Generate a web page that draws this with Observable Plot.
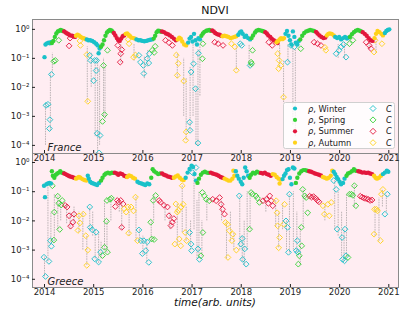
<!DOCTYPE html>
<html><head><meta charset="utf-8">
<script src="https://cdn.jsdelivr.net/npm/d3@7"></script>
<script src="https://cdn.jsdelivr.net/npm/@observablehq/plot@0.6"></script>
<style>
body{margin:0;background:#fff;font-family:"DejaVu Sans",sans-serif;}
#wrap{position:relative;width:416px;height:315px;overflow:hidden;}
#wrap svg.p{position:absolute;left:0;top:0;}
.t{position:absolute;white-space:nowrap;color:#111;}
</style></head>
<body><div id="wrap"></div>
<script>
// ---------- labels / ticks ----------
const title = "NDVI";
const xLabel = "time(arb. units)";
const panelNames = ["France", "Greece"];
const years = [2014, 2015, 2016, 2017, 2018, 2019, 2020, 2021];
const yTicks = [1e-4, 1e-3, 1e-2, 1e-1, 1];
const seasonCodes = ["W", "P", "S", "A"];
const seasonNames = ["Winter", "Spring", "Summer", "Autumn"];
const seasonColors = ["#19c1c9", "#34d134", "#e3163c", "#ffd21a"];

// ---------- France: rho [t, value, season] ----------
const franceRho = [
[2014.00,0.11,"W"],[2014.02,0.30,"W"],[2014.05,0.33,"W"],[2014.08,0.35,"W"],[2014.11,0.33,"W"],[2014.13,0.36,"W"],
[2014.15,0.34,"P"],[2014.18,0.40,"P"],[2014.21,0.55,"P"],[2014.24,0.72,"P"],[2014.27,0.85,"P"],[2014.30,0.9,"P"],[2014.33,0.95,"P"],[2014.36,0.9,"P"],[2014.38,0.88,"P"],
[2014.40,0.85,"S"],[2014.43,0.78,"S"],[2014.46,0.72,"S"],[2014.49,0.68,"S"],[2014.52,0.62,"S"],[2014.56,0.6,"S"],[2014.59,0.58,"S"],[2014.62,0.55,"S"],
[2014.64,0.6,"A"],[2014.67,0.66,"A"],[2014.70,0.62,"A"],[2014.73,0.56,"A"],[2014.76,0.52,"A"],[2014.80,0.5,"A"],[2014.83,0.46,"A"],
[2014.86,0.45,"W"],[2014.89,0.42,"W"],[2014.93,0.42,"W"],[2014.97,0.4,"W"],[2015.01,0.36,"W"],[2015.05,0.32,"W"],[2015.08,0.28,"W"],[2015.10,0.15,"W"],[2015.12,0.22,"W"],
[2015.15,0.25,"P"],[2015.18,0.3,"P"],[2015.21,0.42,"P"],[2015.24,0.6,"P"],[2015.27,0.78,"P"],[2015.30,0.88,"P"],[2015.33,0.95,"P"],[2015.36,0.92,"P"],[2015.38,0.85,"P"],
[2015.41,0.75,"S"],[2015.44,0.62,"S"],[2015.47,0.5,"S"],[2015.50,0.42,"S"],[2015.53,0.4,"S"],[2015.56,0.48,"S"],[2015.59,0.58,"S"],[2015.62,0.62,"S"],
[2015.65,0.7,"A"],[2015.68,0.72,"A"],[2015.71,0.65,"A"],[2015.74,0.58,"A"],[2015.77,0.52,"A"],[2015.81,0.5,"A"],[2015.84,0.48,"A"],
[2015.87,0.45,"W"],[2015.91,0.42,"W"],[2015.95,0.42,"W"],[2015.99,0.4,"W"],[2016.03,0.39,"W"],[2016.07,0.4,"W"],[2016.11,0.42,"W"],[2016.15,0.44,"W"],[2016.19,0.45,"W"],
[2016.22,0.48,"P"],[2016.25,0.6,"P"],[2016.28,0.8,"P"],[2016.31,0.9,"P"],[2016.34,0.88,"P"],[2016.37,0.82,"P"],
[2016.39,0.85,"S"],[2016.43,0.8,"S"],[2016.47,0.72,"S"],[2016.51,0.68,"S"],[2016.55,0.62,"S"],[2016.59,0.55,"S"],[2016.63,0.48,"S"],[2016.67,0.42,"S"],
[2016.71,0.45,"A"],[2016.74,0.52,"A"],[2016.77,0.48,"A"],[2016.80,0.38,"A"],[2016.84,0.3,"A"],[2016.88,0.28,"A"],
[2016.92,0.35,"W"],[2016.95,0.48,"W"],[2016.98,0.55,"W"],[2017.01,0.38,"W"],[2017.04,0.7,"W"],[2017.07,0.42,"W"],[2017.10,0.3,"W"],[2017.13,0.5,"W"],[2017.16,0.45,"W"],
[2017.19,0.6,"P"],[2017.22,0.72,"P"],[2017.25,0.82,"P"],[2017.29,0.9,"P"],[2017.32,0.92,"P"],[2017.35,0.95,"P"],[2017.38,0.9,"P"],
[2017.41,0.92,"S"],[2017.44,0.85,"S"],[2017.47,0.75,"S"],[2017.50,0.7,"S"],[2017.53,0.66,"S"],[2017.56,0.65,"S"],[2017.59,0.6,"S"],
[2017.62,0.58,"A"],[2017.66,0.6,"A"],[2017.70,0.58,"A"],[2017.74,0.55,"A"],[2017.78,0.5,"A"],[2017.82,0.52,"A"],[2017.86,0.55,"A"],[2017.90,0.58,"A"],
[2017.94,0.65,"W"],[2017.97,0.78,"W"],[2018.00,0.85,"W"],[2018.03,0.7,"W"],[2018.07,0.55,"W"],[2018.10,0.6,"W"],[2018.14,0.5,"W"],[2018.18,0.45,"W"],
[2018.21,0.5,"P"],[2018.24,0.62,"P"],[2018.28,0.78,"P"],[2018.31,0.9,"P"],[2018.35,0.95,"P"],[2018.39,0.92,"P"],[2018.43,0.88,"P"],[2018.46,0.85,"P"],
[2018.49,0.8,"S"],[2018.52,0.72,"S"],[2018.55,0.62,"S"],[2018.59,0.55,"S"],[2018.62,0.48,"S"],[2018.66,0.42,"S"],[2018.70,0.38,"S"],[2018.74,0.34,"S"],
[2018.72,0.36,"A"],[2018.75,0.4,"A"],[2018.78,0.45,"A"],[2018.81,0.5,"A"],[2018.84,0.46,"A"],[2018.87,0.5,"A"],
[2018.90,0.7,"W"],[2018.93,0.88,"W"],[2018.96,0.6,"W"],[2018.99,0.42,"W"],[2019.02,0.3,"W"],[2019.05,0.85,"W"],[2019.08,0.55,"W"],[2019.11,0.35,"W"],[2019.14,0.3,"W"],[2019.17,0.4,"W"],
[2019.20,0.45,"P"],[2019.24,0.6,"P"],[2019.28,0.75,"P"],[2019.32,0.85,"P"],[2019.36,0.9,"P"],[2019.40,0.95,"P"],[2019.44,0.92,"P"],[2019.48,0.88,"P"],
[2019.52,0.82,"S"],[2019.55,0.72,"S"],[2019.59,0.62,"S"],[2019.63,0.55,"S"],[2019.67,0.5,"S"],[2019.71,0.52,"S"],
[2019.74,0.62,"A"],[2019.77,0.7,"A"],[2019.80,0.72,"A"],[2019.84,0.7,"A"],[2019.88,0.62,"A"],
[2019.91,0.55,"W"],[2019.95,0.5,"W"],[2019.99,0.55,"W"],[2020.03,0.45,"W"],[2020.07,0.5,"W"],[2020.11,0.55,"W"],[2020.15,0.48,"W"],[2020.18,0.52,"W"],
[2020.21,0.55,"P"],[2020.25,0.68,"P"],[2020.29,0.8,"P"],[2020.33,0.9,"P"],[2020.37,0.95,"P"],[2020.41,0.9,"P"],[2020.44,0.85,"P"],
[2020.47,0.8,"S"],[2020.51,0.7,"S"],[2020.55,0.6,"S"],[2020.59,0.5,"S"],[2020.63,0.42,"S"],[2020.67,0.4,"S"],
[2020.71,0.5,"A"],[2020.74,0.7,"A"],[2020.77,0.88,"A"],[2020.81,0.8,"A"],[2020.85,0.7,"A"],[2020.88,0.62,"A"],
[2020.92,0.75,"W"],[2020.95,0.88,"W"],[2020.98,0.95,"W"],[2021.01,1.0,"W"]
];

// ---------- France: C [t, value, season] ----------
const franceC = [
[2014.03,2.4e-3,"W"],[2014.07,2.6e-3,"W"],[2014.11,7.7e-4,"W"],[2014.10,3.8e-4,"W"],[2014.14,2.8e-2,"W"],
[2014.19,0.079,"P"],[2014.22,0.085,"P"],[2014.29,0.42,"P"],
[2014.50,0.27,"S"],[2014.52,0.5,"S"],
[2014.72,0.4,"A"],[2014.73,0.28,"A"],[2014.86,0.134,"A"],[2014.88,3.3e-3,"A"],
[2014.92,0.127,"W"],[2014.94,0.085,"W"],[2015.02,0.085,"W"],[2015.00,0.017,"W"],[2015.05,0.038,"W"],[2015.06,0.085,"W"],[2015.07,2.6e-4,"W"],[2015.13,2.2e-4,"W"],[2015.11,5.5e-5,"W"],
[2015.18,6.7e-4,"P"],[2015.22,1.15e-3,"P"],[2015.20,0.057,"P"],[2015.28,0.19,"P"],
[2015.49,0.28,"S"],[2015.55,0.145,"S"],[2015.54,0.074,"S"],[2015.57,0.2,"S"],
[2015.70,0.45,"A"],[2015.72,0.32,"A"],[2015.81,0.11,"A"],[2015.85,0.13,"A"],
[2015.92,0.127,"W"],[2015.95,0.074,"W"],[2016.01,0.057,"W"],[2016.02,0.030,"W"],[2016.09,0.098,"W"],[2016.12,0.069,"W"],[2016.13,0.145,"W"],
[2016.19,0.19,"P"],[2016.23,0.16,"P"],[2016.25,0.26,"P"],
[2016.46,0.42,"S"],[2016.53,0.35,"S"],[2016.60,0.28,"S"],
[2016.68,0.13,"A"],[2016.70,0.026,"A"],[2016.72,0.067,"A"],[2016.83,0.0165,"A"],[2016.88,2.9e-4,"A"],[2016.87,1.5e-4,"A"],
[2016.96,3.3e-4,"W"],[2016.95,6.3e-4,"W"],[2016.98,0.034,"W"],[2017.03,0.065,"W"],[2017.07,9e-3,"W"],[2017.12,1.2e-4,"W"],[2017.13,0.15,"W"],
[2017.21,0.097,"P"],[2017.22,0.32,"P"],
[2017.46,0.36,"S"],[2017.53,0.32,"S"],[2017.63,0.28,"S"],
[2017.80,0.32,"A"],[2017.87,0.25,"A"],[2017.90,0.039,"A"],
[2017.98,0.32,"W"],[2018.01,0.28,"W"],[2018.18,0.057,"W"],
[2018.23,0.19,"P"],[2018.20,0.074,"P"],[2018.21,0.065,"P"],
[2018.56,0.36,"S"],[2018.63,0.28,"S"],
[2018.74,0.145,"A"],[2018.77,0.085,"A"],[2018.80,0.057,"A"],[2018.76,0.044,"A"],[2018.86,4.6e-3,"A"],
[2018.94,0.074,"W"],[2019.01,0.28,"W"],[2019.08,0.25,"W"],
[2019.21,0.215,"P"],
[2019.48,0.36,"S"],[2019.55,0.32,"S"],[2019.62,0.28,"S"],
[2019.72,0.19,"A"],[2019.70,0.24,"A"],
[2019.93,0.145,"W"],[2019.99,0.19,"W"],[2020.03,0.25,"W"],[2020.13,0.11,"W"],[2020.08,0.3,"W"],
[2020.20,0.32,"P"],[2020.27,0.42,"P"],
[2020.54,0.36,"S"],[2020.60,0.28,"S"],[2020.64,0.215,"S"],
[2020.70,0.165,"A"],[2020.72,0.42,"A"],[2020.86,0.32,"A"]
];

// ---------- France: vertical uncertainty segments [t, low, high] ----------
const franceErr = [
[2014.02,1e-4,3e-3],[2014.12,3e-4,0.03],[2014.16,0.03,0.15],[2014.87,3e-3,0.25],[2014.95,0.01,0.15],
[2015.03,2e-4,0.08],[2015.08,5e-5,0.1],[2015.12,1e-4,0.05],[2015.20,1e-3,0.1],[2015.23,8e-4,0.05],
[2015.55,0.07,0.3],[2015.82,0.08,0.3],[2016.03,0.02,0.12],[2016.10,0.05,0.2],[2016.70,0.02,0.15],
[2016.83,1e-3,0.1],[2016.88,1.5e-4,0.02],[2016.96,3e-4,0.05],[2017.02,1e-3,0.3],[2017.08,1e-4,0.01],
[2017.12,1e-4,0.2],[2017.16,5e-3,0.3],[2017.90,0.04,0.25],[2018.16,0.05,0.3],[2018.78,0.05,0.3],
[2018.86,3e-3,0.08],[2018.95,0.07,0.3],[2019.05,5e-4,0.3],[2019.10,2e-4,0.2],[2019.97,0.1,0.3],
[2020.10,0.1,0.35],[2020.60,0.2,0.4],[2020.74,0.15,0.45]
];

// ---------- Greece: rho ----------
const greeceRho = [
[2013.99,0.16,"W"],[2014.01,0.065,"W"],[2014.04,0.18,"W"],[2014.07,0.19,"W"],[2014.10,0.2,"W"],[2014.13,0.19,"W"],
[2014.15,0.5,"P"],[2014.17,0.35,"P"],[2014.20,0.3,"P"],[2014.23,0.38,"P"],[2014.26,0.42,"P"],[2014.29,0.45,"P"],[2014.32,0.5,"P"],[2014.35,0.45,"P"],[2014.38,0.44,"P"],
[2014.40,0.42,"S"],[2014.43,0.4,"S"],[2014.46,0.37,"S"],[2014.49,0.35,"S"],[2014.52,0.33,"S"],[2014.56,0.32,"S"],[2014.60,0.3,"S"],
[2014.64,0.28,"A"],[2014.67,0.3,"A"],[2014.70,0.32,"A"],[2014.73,0.3,"A"],[2014.77,0.27,"A"],[2014.81,0.25,"A"],[2014.85,0.24,"A"],
[2014.88,0.35,"W"],[2014.90,0.28,"W"],[2014.93,0.22,"W"],[2014.96,0.2,"W"],[2014.99,0.19,"W"],[2015.03,0.18,"W"],[2015.07,0.17,"W"],[2015.11,0.2,"W"],
[2015.15,0.24,"P"],[2015.18,0.3,"P"],[2015.22,0.38,"P"],[2015.25,0.42,"P"],[2015.29,0.45,"P"],[2015.33,0.42,"P"],[2015.37,0.45,"P"],[2015.40,0.44,"P"],
[2015.43,0.45,"S"],[2015.47,0.42,"S"],[2015.50,0.38,"S"],[2015.54,0.42,"S"],[2015.58,0.4,"S"],[2015.62,0.35,"S"],[2015.66,0.33,"S"],
[2015.68,0.32,"A"],[2015.72,0.36,"A"],[2015.76,0.34,"A"],[2015.80,0.3,"A"],[2015.84,0.28,"A"],
[2015.89,0.22,"W"],[2015.93,0.2,"W"],[2015.97,0.19,"W"],[2016.01,0.18,"W"],[2016.05,0.17,"W"],[2016.09,0.19,"W"],[2016.13,0.18,"W"],
[2016.17,0.3,"P"],[2016.20,0.59,"P"],[2016.23,0.5,"P"],[2016.27,0.45,"P"],[2016.31,0.4,"P"],[2016.35,0.42,"P"],
[2016.39,0.42,"S"],[2016.43,0.38,"S"],[2016.47,0.36,"S"],[2016.51,0.33,"S"],[2016.55,0.32,"S"],[2016.59,0.3,"S"],
[2016.63,0.3,"A"],[2016.67,0.33,"A"],[2016.71,0.36,"A"],[2016.75,0.3,"A"],[2016.79,0.26,"A"],[2016.83,0.25,"A"],
[2016.87,0.3,"W"],[2016.91,0.45,"W"],[2016.95,0.6,"W"],[2016.99,0.77,"W"],[2017.02,0.7,"W"],[2017.05,0.4,"W"],[2017.08,0.24,"W"],
[2017.11,0.2,"P"],[2017.14,0.28,"P"],[2017.18,0.38,"P"],[2017.22,0.45,"P"],[2017.26,0.48,"P"],[2017.30,0.45,"P"],[2017.34,0.44,"P"],
[2017.38,0.45,"S"],[2017.42,0.42,"S"],[2017.46,0.4,"S"],[2017.50,0.38,"S"],[2017.54,0.35,"S"],[2017.58,0.32,"S"],[2017.62,0.3,"S"],
[2017.66,0.28,"A"],[2017.70,0.26,"A"],[2017.74,0.24,"A"],[2017.78,0.24,"A"],[2017.82,0.28,"A"],[2017.84,0.52,"A"],[2017.86,0.35,"A"],
[2017.89,0.5,"W"],[2017.92,0.35,"W"],[2017.95,0.28,"W"],[2017.99,0.22,"W"],[2018.02,0.18,"W"],[2018.05,0.3,"W"],[2018.08,0.67,"W"],[2018.11,0.5,"W"],[2018.14,0.35,"W"],
[2018.17,0.3,"P"],[2018.20,0.38,"P"],[2018.24,0.45,"P"],[2018.28,0.42,"P"],[2018.32,0.48,"P"],[2018.36,0.45,"P"],
[2018.40,0.44,"S"],[2018.44,0.42,"S"],[2018.48,0.45,"S"],[2018.52,0.4,"S"],[2018.56,0.38,"S"],[2018.60,0.35,"S"],
[2018.64,0.4,"A"],[2018.68,0.38,"A"],[2018.72,0.32,"A"],[2018.76,0.28,"A"],[2018.78,0.19,"A"],[2018.80,0.26,"A"],
[2018.84,0.27,"W"],[2018.87,0.35,"W"],[2018.90,0.42,"W"],[2018.93,0.55,"W"],[2018.96,0.59,"W"],[2018.99,0.3,"W"],[2019.02,0.18,"W"],[2019.05,0.67,"W"],[2019.08,0.62,"W"],
[2019.11,0.2,"P"],[2019.14,0.3,"P"],[2019.18,0.42,"P"],[2019.22,0.5,"P"],[2019.26,0.55,"P"],[2019.30,0.55,"P"],[2019.34,0.52,"P"],
[2019.38,0.5,"S"],[2019.42,0.48,"S"],[2019.46,0.45,"S"],[2019.50,0.42,"S"],[2019.54,0.4,"S"],[2019.58,0.38,"S"],[2019.62,0.36,"S"],
[2019.66,0.32,"A"],[2019.70,0.3,"A"],[2019.74,0.28,"A"],[2019.78,0.3,"A"],[2019.82,0.35,"A"],[2019.85,0.52,"A"],
[2019.88,0.48,"W"],[2019.91,0.4,"W"],[2019.94,0.32,"W"],[2019.97,0.27,"W"],[2020.00,0.22,"W"],[2020.03,0.18,"W"],[2020.07,0.2,"W"],[2020.10,0.28,"W"],
[2020.14,0.35,"P"],[2020.17,0.42,"P"],[2020.21,0.45,"P"],[2020.25,0.5,"P"],[2020.29,0.59,"P"],[2020.33,0.52,"P"],
[2020.38,0.5,"S"],[2020.42,0.48,"S"],[2020.46,0.45,"S"],[2020.50,0.46,"S"],[2020.54,0.44,"S"],[2020.58,0.45,"S"],[2020.62,0.42,"S"],[2020.66,0.4,"S"],
[2020.70,0.35,"A"],[2020.73,0.3,"A"],[2020.76,0.28,"A"],[2020.80,0.3,"A"],[2020.84,0.35,"A"],
[2020.88,0.4,"W"],[2020.92,0.45,"W"],[2020.96,0.52,"W"],[2020.99,0.48,"W"]
];

// ---------- Greece: C ----------
const greeceC = [
[2013.99,5.7e-4,"W"],[2014.09,4.1e-4,"W"],[2014.02,1.25e-4,"W"],[2014.12,2.1e-3,"W"],[2014.14,1.35e-3,"W"],
[2014.19,2.2e-3,"P"],[2014.16,0.16,"P"],[2014.20,0.02,"P"],[2014.27,0.07,"P"],[2014.31,5.1e-3,"P"],[2014.29,0.04,"P"],[2014.36,0.05,"P"],[2014.34,0.035,"P"],
[2014.42,0.034,"S"],[2014.50,0.015,"S"],[2014.53,6.6e-3,"S"],[2014.46,0.03,"S"],[2014.60,0.017,"S"],[2014.58,0.009,"S"],
[2014.70,0.015,"A"],[2014.72,0.0085,"A"],[2014.68,4.7e-3,"A"],[2014.79,0.017,"A"],[2014.86,3e-4,"A"],[2014.88,1e-3,"A"],[2014.84,3.1e-3,"A"],
[2014.92,0.03,"W"],[2014.93,6e-3,"W"],[2014.97,5e-3,"W"],[2015.05,4.1e-3,"W"],[2015.02,5e-4,"W"],[2015.10,3.9e-4,"W"],[2015.14,8.5e-4,"W"],
[2015.18,6.5e-4,"P"],[2015.22,1.25e-3,"P"],[2015.26,9.7e-3,"P"],[2015.28,8.5e-4,"P"],[2015.27,0.05,"P"],[2015.33,0.055,"P"],[2015.36,0.06,"P"],
[2015.48,0.05,"S"],[2015.51,0.044,"S"],[2015.55,0.05,"S"],[2015.44,0.031,"S"],[2015.57,6e-3,"S"],[2015.60,0.038,"S"],
[2015.62,0.026,"A"],[2015.66,0.02,"A"],[2015.70,0.03,"A"],[2015.76,0.03,"A"],[2015.85,0.065,"A"],[2015.81,0.022,"A"],[2015.71,3.8e-3,"A"],[2015.89,2.1e-3,"A"],
[2015.92,4.9e-3,"W"],[2015.96,2.1e-3,"W"],[2016.02,2.1e-3,"W"],[2016.06,9.6e-4,"W"],[2016.09,1.9e-3,"W"],[2016.12,3.8e-4,"W"],[2015.99,7.6e-4,"W"],
[2016.16,9e-3,"P"],[2016.18,2.4e-3,"P"],[2016.21,0.05,"P"],[2016.26,0.074,"P"],[2016.23,2.3e-3,"P"],
[2016.33,0.05,"S"],[2016.36,0.044,"S"],[2016.43,0.034,"S"],[2016.50,0.03,"S"],[2016.53,0.015,"S"],[2016.57,6.9e-3,"S"],[2016.60,9e-3,"S"],[2016.63,0.012,"S"],
[2016.67,0.038,"A"],[2016.70,0.02,"A"],[2016.72,0.023,"A"],[2016.80,0.16,"A"],[2016.74,2.4e-3,"A"],[2016.77,1.4e-3,"A"],[2016.65,1.6e-3,"A"],[2016.78,0.03,"A"],[2016.82,0.037,"A"],[2016.86,4e-3,"A"],[2016.89,2.1e-3,"A"],
[2016.95,4e-3,"W"],[2016.98,1.6e-3,"W"],[2016.99,9.6e-4,"W"],[2017.01,0.45,"W"],[2017.08,0.67,"W"],[2017.12,1.1e-3,"W"],[2017.15,4.8e-4,"W"],
[2017.22,4e-3,"P"],[2017.18,6.4e-4,"P"],[2017.21,0.094,"P"],[2017.25,0.072,"P"],[2017.29,0.055,"P"],[2017.35,0.049,"P"],
[2017.42,0.055,"S"],[2017.49,0.049,"S"],[2017.56,0.063,"S"],[2017.59,0.037,"S"],[2017.62,0.025,"S"],[2017.66,0.017,"S"],
[2017.68,8.8e-3,"A"],[2017.72,7.7e-3,"A"],[2017.76,4.6e-3,"A"],[2017.83,3.5e-3,"A"],[2017.81,2.1e-3,"A"],[2017.73,5.6e-4,"A"],[2017.90,1e-3,"A"],
[2017.96,0.072,"W"],[2017.99,1.6e-3,"W"],[2018.07,1.1e-3,"W"],[2018.03,4.8e-4,"W"],[2018.10,3.3e-4,"W"],[2018.02,2.5e-3,"W"],
[2018.17,5.2e-3,"P"],[2018.20,0.094,"P"],[2018.23,0.082,"P"],[2018.30,0.072,"P"],[2018.37,0.043,"P"],[2018.33,0.06,"P"],
[2018.44,0.049,"S"],[2018.51,0.055,"S"],[2018.58,0.072,"S"],[2018.61,0.049,"S"],[2018.64,0.033,"S"],[2018.55,0.04,"S"],
[2018.71,0.049,"A"],[2018.73,0.019,"A"],[2018.74,6.8e-3,"A"],[2018.78,2.7e-3,"A"],[2018.76,1.2e-3,"A"],[2018.88,0.037,"A"],[2018.86,7.7e-3,"A"],
[2018.98,0.082,"W"],[2018.91,0.01,"W"],[2018.94,6e-3,"W"],[2018.96,8.4e-4,"W"],[2019.14,2.1e-3,"W"],[2019.15,8.4e-4,"W"],[2019.12,9.6e-4,"W"],
[2019.25,0.12,"P"],[2019.29,0.072,"P"],[2019.32,0.063,"P"],[2019.35,0.019,"P"],[2019.22,6e-3,"P"],[2019.23,1.4e-3,"P"],[2019.18,6.4e-4,"P"],[2019.16,3.3e-4,"P"],
[2019.39,0.07,"S"],[2019.43,0.065,"S"],[2019.47,0.068,"S"],[2019.51,0.06,"S"],[2019.55,0.05,"S"],[2019.58,0.045,"S"],
[2019.66,0.033,"A"],[2019.69,0.017,"A"],[2019.76,0.037,"A"],[2019.83,0.043,"A"],[2019.79,0.015,"A"],
[2019.88,0.24,"W"],[2019.93,0.12,"W"],[2019.95,5.2e-3,"W"],[2020.05,2.7e-3,"W"],[2020.06,4.8e-4,"W"],[2020.10,4.3e-4,"W"],[2020.13,6.4e-4,"W"],[2020.11,5.2e-3,"W"],
[2020.17,5.6e-4,"P"],[2020.30,0.16,"P"],[2020.33,0.033,"P"],[2020.20,0.082,"P"],[2020.24,0.082,"P"],[2020.27,0.075,"P"],
[2020.42,0.07,"S"],[2020.46,0.065,"S"],[2020.50,0.06,"S"],[2020.54,0.058,"S"],[2020.58,0.055,"S"],[2020.62,0.05,"S"],[2020.66,0.052,"S"],
[2020.71,0.025,"A"],[2020.75,0.025,"A"],[2020.77,0.022,"A"],[2020.70,3.5e-3,"A"],[2020.83,2.1e-3,"A"],[2020.88,0.12,"A"],[2020.85,0.082,"A"],
[2020.97,0.082,"W"],[2020.92,0.017,"W"]
];

// ---------- Greece: vertical uncertainty segments ----------
const greeceErr = [
[2014.00,1.2e-4,6e-4],[2014.07,4e-4,0.15],[2014.13,1.5e-3,0.02],[2014.20,2e-3,0.08],[2014.27,5e-3,0.07],[2014.33,0.01,0.05],
[2014.45,0.008,0.035],[2014.52,5e-3,0.02],[2014.60,0.008,0.03],[2014.70,4e-3,0.02],[2014.78,1e-3,0.02],[2014.86,3e-4,3e-3],
[2014.92,5e-3,0.03],[2014.98,3e-3,0.02],[2015.03,5e-4,5e-3],[2015.10,3.5e-4,4e-3],[2015.15,5e-4,2e-3],[2015.22,1e-3,0.05],
[2015.27,8e-4,0.01],[2015.35,0.01,0.06],[2015.52,0.02,0.05],[2015.57,5e-3,0.04],[2015.72,3e-3,0.03],[2015.86,2e-3,0.07],
[2015.93,2e-3,5e-3],[2016.00,7e-4,3e-3],[2016.08,4e-4,2e-3],[2016.17,2e-3,0.01],[2016.22,0.01,0.08],[2016.45,0.01,0.04],
[2016.55,5e-3,0.02],[2016.70,1.4e-3,0.04],[2016.80,4e-3,0.16],[2016.88,2e-3,0.03],[2016.97,1e-3,0.01],[2017.04,5e-3,0.5],
[2017.10,5e-4,0.05],[2017.14,5e-4,0.1],[2017.20,6e-4,0.01],[2017.30,0.01,0.06],[2017.60,0.01,0.05],[2017.70,5e-4,0.01],
[2017.78,2e-3,0.02],[2017.85,1e-3,4e-3],[2017.97,1e-3,0.07],[2018.02,4e-4,3e-3],[2018.06,3e-4,0.01],[2018.12,1e-3,0.1],
[2018.18,5e-3,0.09],[2018.50,0.02,0.06],[2018.70,6e-3,0.05],[2018.76,1.2e-3,0.02],[2018.84,5e-3,0.04],[2018.92,1e-3,0.01],
[2018.98,8e-4,0.08],[2019.06,1e-3,0.1],[2019.13,8e-4,0.02],[2019.20,3e-4,6e-3],[2019.26,6e-3,0.12],[2019.70,0.01,0.04],
[2019.90,5e-3,0.24],[2019.97,3e-3,0.1],[2020.04,5e-4,0.02],[2020.09,4e-4,5e-3],[2020.14,6e-4,0.08],[2020.30,0.03,0.16],
[2020.72,3e-3,0.03],[2020.80,2e-3,0.06],[2020.87,0.03,0.12],[2020.95,0.02,0.08]
];

// ---------- drawing ----------
const W = 416, H = 315;
const pink = "#ffedf2";
const sup = {"-":"\u207B","0":"\u2070","1":"\u00B9","2":"\u00B2","3":"\u00B3","4":"\u2074","5":"\u2075"};
const fmtPow = d => "10" + String(Math.round(Math.log10(d))).split("").map(c => sup[c]).join("");

function panel(rho, cData, err, name, top, bottom, yDomain) {
  return Plot.plot({
    width: W, height: H,
    marginLeft: 32, marginRight: 18, marginTop: top, marginBottom: H - bottom,
    style: {background: "transparent", fontFamily: "DejaVu Sans, sans-serif", fontSize: "8.5px", color: "#222", overflow: "visible"},
    x: {domain: [2013.756, 2021.197]},
    y: {type: "log", domain: yDomain},
    color: {type: "ordinal", domain: seasonCodes, range: seasonColors},
    marks: [
      Plot.frame({fill: pink}),
      Plot.ruleX(err, {x: d => d[0], y1: d => d[1], y2: d => d[2], stroke: "#7a7a7a", strokeWidth: 0.9, strokeOpacity: 0.55, strokeDasharray: "1.6,0.9", clip: true}),
      Plot.dot(cData, {x: d => d[0], y: d => d[1], stroke: d => d[2], symbol: "diamond2", r: 2.6, strokeWidth: 0.9, clip: true}),
      Plot.dot(rho, {x: d => d[0], y: d => d[1], fill: d => d[2], r: 2.2, clip: true}),
      Plot.frame({stroke: "#8a8a8a", strokeWidth: 1}),
      Plot.axisX({ticks: years, tickFormat: d => String(d), tickSize: -3, tickPadding: 4, label: null, fontSize: 8.5}),
      Plot.axisY({ticks: yTicks, tickFormat: fmtPow, tickSize: -3, tickPadding: 6, label: null, fontSize: 8.5}),
      Plot.text([name], {text: d => d, frameAnchor: "bottom-left", dx: 15, dy: -3, fontStyle: "italic", fontSize: 10, fill: "#222"})
    ]
  });
}

const wrap = document.getElementById("wrap");
const p2 = panel(greeceRho, greeceC, greeceErr, panelNames[1], 153, 287, [Math.pow(10, -4.281), Math.pow(10, 0.308)]);
const p1 = panel(franceRho, franceC, franceErr, panelNames[0], 19, 153, [Math.pow(10, -4.28), Math.pow(10, 0.34)]);
p2.classList.add("p"); p1.classList.add("p");
wrap.appendChild(p2);
wrap.appendChild(p1);

// title and axis label
const t = document.createElement("div");
t.className = "t"; t.textContent = title;
t.style.cssText = "left:215px;top:4px;transform:translateX(-50%);font-size:11px;";
wrap.appendChild(t);
const xl = document.createElement("div");
xl.className = "t"; xl.textContent = xLabel;
xl.style.cssText = "left:215px;top:296px;transform:translateX(-50%);font-size:10.5px;font-style:italic;";
wrap.appendChild(xl);

// legend
const ns = "http://www.w3.org/2000/svg";
const lg = document.createElementNS(ns, "svg");
lg.setAttribute("width", 112); lg.setAttribute("height", 47);
lg.style.cssText = "position:absolute;left:283px;top:102px;font-family:'DejaVu Sans',sans-serif;";
let html = `<rect x="0.5" y="0.5" width="111" height="46" rx="2" fill="#fff" fill-opacity="0.8" stroke="#d0d0d0"/>`;
seasonNames.forEach((s, i) => {
  const y = 6.5 + i * 11.4;
  const c = seasonColors[i];
  html += `<circle cx="12" cy="${y}" r="2.1" fill="${c}"/>`;
  html += `<text x="25" y="${y + 3}" font-size="8.3" fill="#222"><tspan font-style="italic">ρ</tspan>, ${s}</text>`;
  html += `<path d="M90,${y - 3}L93,${y}L90,${y + 3}L87,${y}Z" fill="none" stroke="${c}" stroke-width="0.9"/>`;
  html += `<text x="103" y="${y + 3}" font-size="8.3" font-style="italic" fill="#222">C</text>`;
});
lg.innerHTML = html;
wrap.appendChild(lg);
</script>
</body></html>
